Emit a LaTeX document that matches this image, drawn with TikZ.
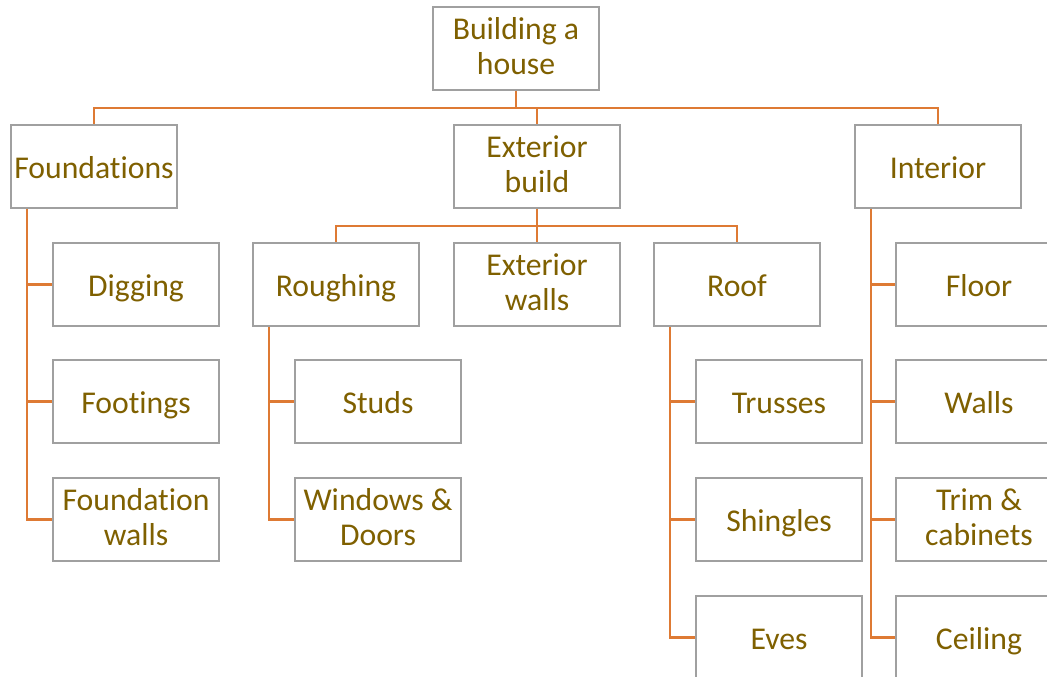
\documentclass[tikz,border=0pt]{standalone}
\usepackage{fontspec}
\setmainfont{Carlito}[Ligatures={NoCommon}]
\definecolor{linecol}{RGB}{222,122,52}
\definecolor{txtcol}{RGB}{127,96,0}
\definecolor{boxcol}{RGB}{160,160,160}
\newcommand{\mystrut}{\vrule height 29.5pt depth 5.5pt width 0pt}
\begin{document}
\begin{tikzpicture}[x=1pt,y=-1pt,
  box/.style={draw=boxcol,line width=1.5pt,fill=white,minimum width=166pt,minimum height=83pt,
    inner sep=0pt,align=center,text=txtcol,font=\fontsize{31.7}{35}\selectfont,
    execute at begin node=\mystrut, execute at end node=\mystrut},
  conn/.style={draw=linecol,line width=2.2pt}]
\useasboundingbox (0,0) rectangle (1047,677);
% level 0
\node[box] (root) at (516,48.5) {Building a\\house};
% level 1
\node[box] (found) at (94,166.5) {Foundations};
\node[box] (ext) at (537,166.5) {Exterior\\build};
\node[box] (int) at (938,166.5) {Interior};
% foundations children
\node[box] (dig) at (136,284.5) {Digging};
\node[box] (foot) at (136,401.5) {Footings};
\node[box] (fwall) at (136,519.5) {Foundation\\walls};
% exterior children
\node[box] (rough) at (336,284.5) {Roughing};
\node[box] (ewall) at (537,284.5) {Exterior\\walls};
\node[box] (roof) at (737,284.5) {Roof};
% roughing children
\node[box] (studs) at (378,401.5) {Studs};
\node[box] (wind) at (378,519.5) {Windows \&\\Doors};
% roof children
\node[box] (truss) at (779,401.5) {Trusses};
\node[box] (shing) at (779,519.5) {Shingles};
\node[box] (eves) at (779,637.5) {Eves};
% interior children
\node[box] (floor) at (979,284.5) {Floor};
\node[box] (walls) at (979,401.5) {Walls};
\node[box] (trim) at (979,519.5) {Trim \&\\cabinets};
\node[box] (ceil) at (979,637.5) {Ceiling};
% connectors
\draw[conn] (root.south) -- ++(0,17) -| (found.north);
\draw[conn] (root.south) -- ++(0,17) -| (ext.north);
\draw[conn] (root.south) -- ++(0,17) -| (int.north);
\draw[conn] (ext.south) -- ++(0,17) -| (rough.north);
\draw[conn] (ext.south) -- (ewall.north);
\draw[conn] (ext.south) -- ++(0,17) -| (roof.north);
\draw[conn] ([xshift=17pt]found.south west) |- (dig.west);
\draw[conn] ([xshift=17pt]found.south west) |- (foot.west);
\draw[conn] ([xshift=17pt]found.south west) |- (fwall.west);
\draw[conn] ([xshift=17pt]rough.south west) |- (studs.west);
\draw[conn] ([xshift=17pt]rough.south west) |- (wind.west);
\draw[conn] ([xshift=17pt]roof.south west) |- (truss.west);
\draw[conn] ([xshift=17pt]roof.south west) |- (shing.west);
\draw[conn] ([xshift=17pt]roof.south west) |- (eves.west);
\draw[conn] ([xshift=17pt]int.south west) |- (floor.west);
\draw[conn] ([xshift=17pt]int.south west) |- (walls.west);
\draw[conn] ([xshift=17pt]int.south west) |- (trim.west);
\draw[conn] ([xshift=17pt]int.south west) |- (ceil.west);
\end{tikzpicture}
\end{document}
